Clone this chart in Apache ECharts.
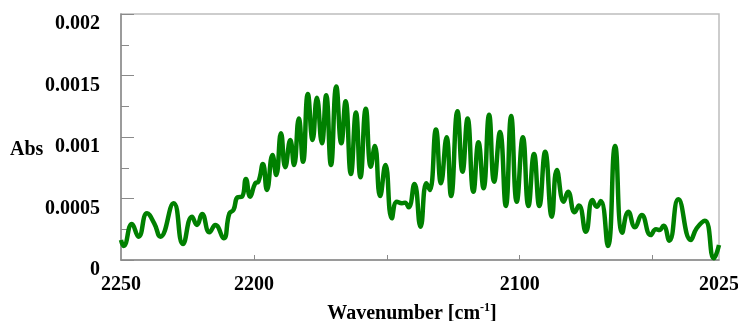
<!DOCTYPE html>
<html>
<head>
<meta charset="utf-8">
<script src="https://cdn.jsdelivr.net/npm/echarts@6/dist/echarts.min.js"></script>
<style>
  html, body { margin: 0; padding: 0; background: #fff; }
  #spectrum { width: 738px; height: 321px; }
</style>
</head>
<body>
<div id="spectrum"></div>
<script>
// values (wavenumber in cm-1, absorbance)
var wavenumber = [
  2250, 2249.0, 2245.9, 2243.4, 2240.2, 2237.5, 2235.2, 2230.2, 2226.7, 2223.3,
  2221.4, 2219.5, 2216.7, 2214.5, 2211.4, 2209.2, 2207.7, 2206.1, 2204.5, 2203.0,
  2201.4, 2199.5, 2198.3, 2196.6, 2195.1, 2193.0, 2191.6, 2189.8, 2188.2, 2186.3,
  2184.9, 2183.1, 2181.5, 2179.7, 2177.9, 2176.3, 2174.4, 2172.8, 2171.0, 2169.0,
  2167.1, 2165.5, 2163.5, 2161.6, 2159.9, 2157.9, 2156.0, 2154.5, 2152.5, 2150.5,
  2148.1, 2146.2, 2144.3, 2143.1, 2141.8, 2139.6, 2137.3, 2135.1, 2133.8, 2131.5,
  2129.6, 2127.5, 2125.8, 2123.4, 2121.5, 2119.6, 2117.4, 2115.5, 2113.6, 2111.5,
  2109.6, 2107.4, 2105.2, 2103.2, 2101.1, 2098.8, 2096.7, 2094.6, 2092.6, 2090.4,
  2087.9, 2086.0, 2083.4, 2081.8, 2079.3, 2077.7, 2075.1, 2072.6, 2071.0, 2069.5,
  2066.8, 2064.1, 2061.4, 2059.1, 2056.6, 2054.1, 2050.7, 2048.7, 2047.4, 2045.9,
  2043.7, 2040.3, 2035.6, 2033.4, 2030.3, 2026.9, 2025
];
var absorbance = [
  0.000163, 0.000114, 0.000293, 0.000189, 0.000380, 0.000298, 0.000189, 0.000461, 0.000130, 0.000352,
  0.000285, 0.000374, 0.000225, 0.000285, 0.000176, 0.000380, 0.000407, 0.000510, 0.000515, 0.000659,
  0.000515, 0.000624, 0.000637, 0.000780, 0.000569, 0.000854, 0.000691, 0.001030, 0.000754, 0.000976,
  0.000772, 0.001150, 0.000799, 0.001350, 0.000976, 0.001320, 0.000949, 0.001340, 0.000772, 0.001410,
  0.000949, 0.001290, 0.000699, 0.001200, 0.000672, 0.001230, 0.000759, 0.000927, 0.000520, 0.000772,
  0.000339, 0.000474, 0.000461, 0.000466, 0.000428, 0.000618, 0.000271, 0.000624, 0.000569, 0.001060,
  0.000624, 0.000998, 0.000520, 0.001210, 0.000718, 0.001150, 0.000555, 0.000957, 0.000583, 0.001180,
  0.000637, 0.001040, 0.000439, 0.001170, 0.000474, 0.000998, 0.000439, 0.000862, 0.000439, 0.000880,
  0.000352, 0.000732, 0.000474, 0.000555, 0.000389, 0.000443, 0.000230, 0.000488, 0.000433, 0.000480,
  0.000114, 0.000927, 0.000222, 0.000393, 0.000266, 0.000366, 0.000203, 0.000250, 0.000244, 0.000279,
  0.000157, 0.000493, 0.000163, 0.000258, 0.000320, 0.000014, 0.000122
];
var xLabels = [2250, 2200, 2100, 2025];
var xTicks = [2200, 2150, 2100, 2050];

var points = wavenumber.map(function (w, i) { return [w, absorbance[i]]; });

var serif = '"Liberation Serif", "DejaVu Serif", serif';

var chartDom = document.getElementById('spectrum');
var myChart = echarts.init(chartDom);
var option;

option = {
  animation: false,
  grid: {
    left: 121,
    right: 19,
    top: 14,
    bottom: 61,
    outerBoundsMode: 'none',
    containLabel: false,
    show: true,
    borderColor: '#bdbdbd',
    borderWidth: 1.5
  },
  graphic: [
    {
      type: 'text',
      left: 10,
      top: 140,
      style: {
        text: 'Abs',
        font: 'bold 20px ' + serif,
        fill: '#000'
      }
    }
  ],
  xAxis: {
    type: 'value',
    inverse: true,
    min: 2025,
    max: 2250,
    name: 'Wavenumber [cm{sup|-1}]',
    nameLocation: 'middle',
    nameGap: 42,
    nameTextStyle: {
      fontFamily: serif,
      fontWeight: 'bold',
      fontSize: 20,
      color: '#000',
      lineHeight: 24,
      padding: [0, 16, 0, 0],
      rich: {
        sup: {
          fontFamily: serif,
          fontWeight: 'bold',
          fontSize: 12,
          color: '#000',
          verticalAlign: 'top',
          lineHeight: 12
        }
      }
    },
    axisLine: { lineStyle: { color: '#8a8a8a', width: 1.5 } },
    axisTick: {
      inside: true,
      length: 5,
      customValues: xTicks,
      lineStyle: { color: '#8a8a8a' }
    },
    axisLabel: {
      customValues: xLabels,
      formatter: function (v) { return String(v); },
      margin: 15,
      fontFamily: serif,
      fontWeight: 'bold',
      fontSize: 20,
      color: '#000'
    },
    splitLine: { show: false }
  },
  yAxis: {
    type: 'value',
    min: 0,
    max: 0.002,
    interval: 0.0005,
    axisLine: { show: true, lineStyle: { color: '#8a8a8a', width: 1.5 } },
    axisTick: {
      inside: true,
      length: 13,
      lineStyle: { color: '#8a8a8a' }
    },
    minorTick: {
      show: true,
      splitNumber: 2,
      length: 8,
      lineStyle: { color: '#8a8a8a' }
    },
    axisLabel: {
      margin: 21,
      verticalAlign: 'top',
      fontFamily: serif,
      fontWeight: 'bold',
      fontSize: 20,
      color: '#000'
    },
    splitLine: { show: false }
  },
  series: [
    {
      type: 'line',
      data: points,
      smooth: 0.5,
      symbol: 'none',
      clip: true,
      lineStyle: { color: '#008000', width: 4.5 }
    }
  ]
};

option && myChart.setOption(option);
</script>
</body>
</html>
